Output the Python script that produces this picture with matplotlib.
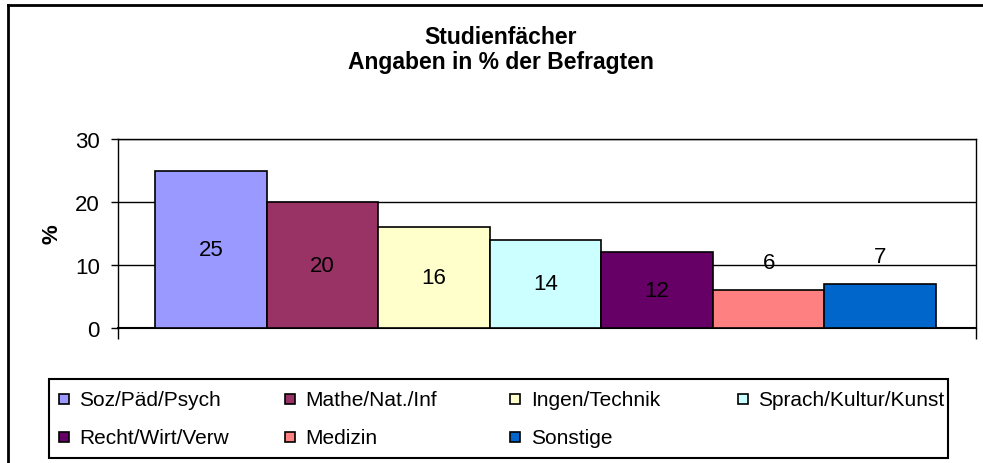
import matplotlib
matplotlib.use("Agg")
import matplotlib.pyplot as plt
from matplotlib.patches import Rectangle
from matplotlib.lines import Line2D

plt.rcParams['font.family'] = ['Liberation Sans', 'DejaVu Sans']

# data
categories = ['Soz/Päd/Psych', 'Mathe/Nat./Inf', 'Ingen/Technik', 'Sprach/Kultur/Kunst',
              'Recht/Wirt/Verw', 'Medizin', 'Sonstige']
values = [25, 20, 16, 14, 12, 6, 7]
colors = ['#9999FF', '#993366', '#FFFFCC', '#CCFFFF', '#660066', '#FF8080', '#0066CC']
yticks = [0, 10, 20, 30]

W, H = 983, 464
fig = plt.figure(figsize=(W / 100, H / 100), dpi=100)

def fx(px):
    return px / W

def fy(py):
    return 1 - py / H

# outer chart border
fig.add_artist(Line2D([fx(8), fx(8)], [fy(6), 0], color='black', lw=2))
fig.add_artist(Line2D([fx(8), 1], [fy(6), fy(6)], color='black', lw=2))

# titles
fig.text(fx(501), fy(44.5), 'Studienfächer', ha='center', va='baseline',
         fontsize=16.5, fontweight='bold')
fig.text(fx(501), fy(69.5), 'Angaben in % der Befragten', ha='center', va='baseline',
         fontsize=16.5, fontweight='bold')

ax = fig.add_axes([fx(118), fy(329), fx(976) - fx(118), fy(140) - fy(329)])
x = list(range(len(values)))
ax.bar(x, values, width=1.0, color=colors, edgecolor='black', linewidth=1.2, zorder=3)

xmin, xmax = -0.832, 6.858
ax.set_xlim(xmin, xmax)
ax.set_ylim(0, 30)
ax.set_yticks(yticks)
ax.set_yticklabels([str(v) for v in yticks], fontsize=16)
ax.set_xticks([xmin, xmax])
ax.set_xticklabels(['', ''])
ax.tick_params(axis='y', direction='out', length=5, width=1, pad=8)
ax.tick_params(axis='x', direction='out', length=8, width=1)
ax.yaxis.grid(True, color='black', linewidth=1, zorder=0)
ax.set_axisbelow(True)
for s in ax.spines.values():
    s.set_linewidth(1)
    s.set_color('black')
ax.spines['bottom'].set_linewidth(1.5)
ax.set_ylabel('%', fontsize=16, fontweight='bold', labelpad=9)

for xi, v in zip(x, values):
    ypos = v / 2 if v >= 10 else v + 4.35
    ax.text(xi, ypos, str(v), ha='center', va='center', fontsize=16, zorder=4)

# legend (Excel-style uniform grid)
fig.add_artist(Rectangle((fx(49), fy(459)), fx(948) - fx(49), fy(380) - fy(459),
                         transform=fig.transFigure, fill=False, edgecolor='black', lw=1.5))
col_x = [63.5, 289.5, 515.5, 742.5]
row_y = [400, 438]
sq = 10
for i, (lab, c) in enumerate(zip(categories, colors)):
    cx = col_x[i % 4]
    cy = row_y[i // 4]
    fig.add_artist(Rectangle((fx(cx - sq / 2), fy(cy + sq / 2)), fx(sq), fy(0) - fy(sq),
                             transform=fig.transFigure, facecolor=c,
                             edgecolor='black', lw=1.2))
    fig.text(fx(cx + 15.5), fy(cy + 1), lab, ha='left', va='center', fontsize=15)

fig.savefig('out.png', dpi=100)
